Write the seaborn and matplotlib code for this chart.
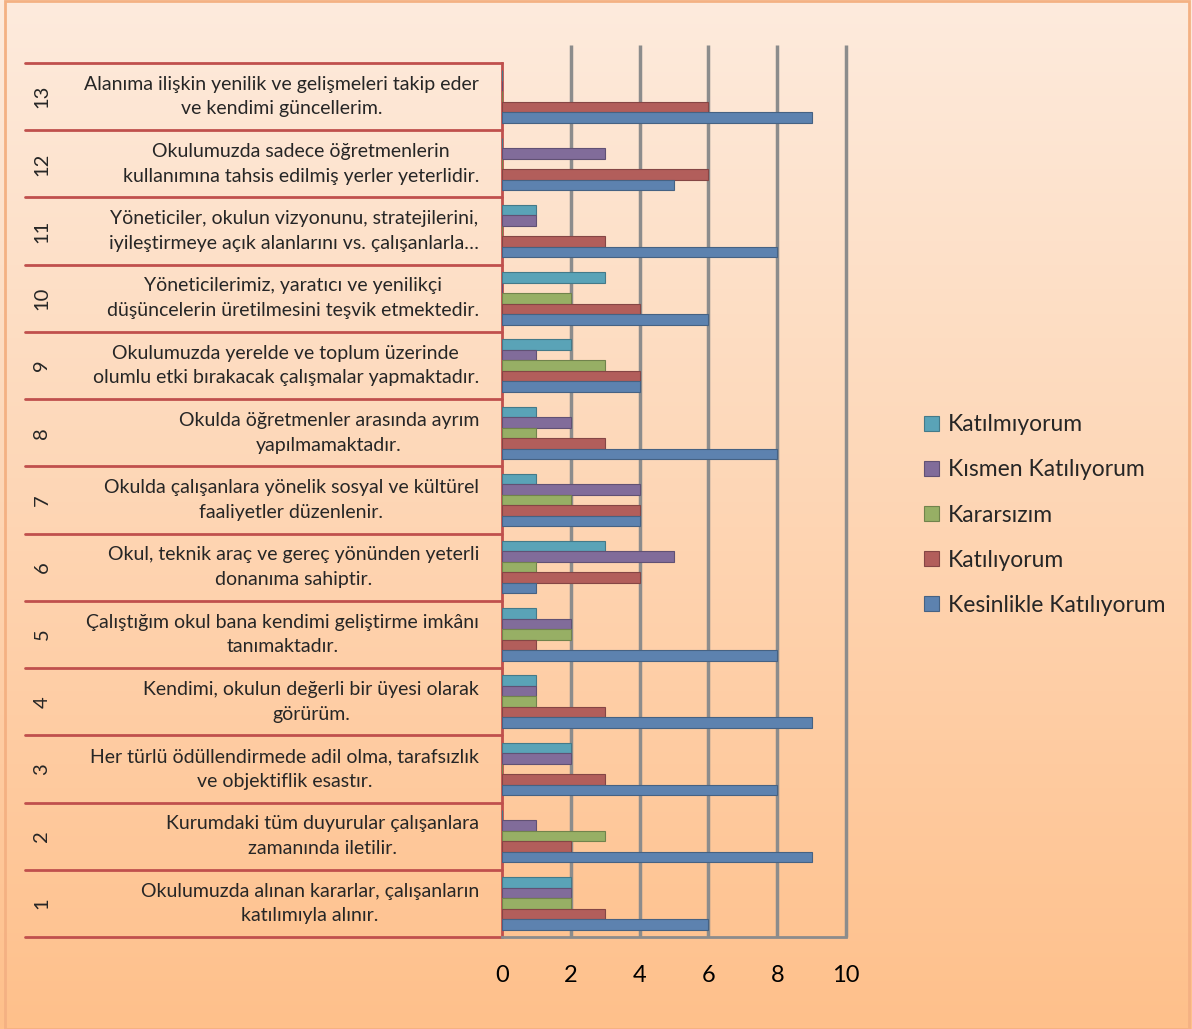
import numpy as np
import pandas as pd
import matplotlib
matplotlib.use("Agg")
import matplotlib.pyplot as plt
import matplotlib.colors as mcolors
from matplotlib.patches import Rectangle
import seaborn as sns

# question numbers and texts (1 at bottom, 13 at top)
numbers = [str(i) for i in range(1, 14)]
questions = [
    "Okulumuzda alınan kararlar, çalışanların\nkatılımıyla alınır.",
    "Kurumdaki tüm duyurular çalışanlara\nzamanında iletilir.",
    "Her türlü ödüllendirmede adil olma, tarafsızlık\nve objektiflik esastır.",
    "Kendimi, okulun değerli bir üyesi olarak\ngörürüm.",
    "Çalıştığım okul bana kendimi geliştirme imkânı\ntanımaktadır.",
    "Okul, teknik araç ve gereç yönünden yeterli\ndonanıma sahiptir.",
    "Okulda çalışanlara yönelik sosyal ve kültürel\nfaaliyetler düzenlenir.",
    "Okulda öğretmenler arasında ayrım\nyapılmamaktadır.",
    "Okulumuzda yerelde ve toplum üzerinde\nolumlu etki bırakacak çalışmalar yapmaktadır.",
    "Yöneticilerimiz, yaratıcı ve yenilikçi\ndüşüncelerin üretilmesini teşvik etmektedir.",
    "Yöneticiler, okulun vizyonunu, stratejilerini,\niyileştirmeye açık alanlarını vs. çalışanlarla…",
    "Okulumuzda sadece öğretmenlerin\nkullanımına tahsis edilmiş yerler yeterlidir.",
    "Alanıma ilişkin yenilik ve gelişmeleri takip eder\nve kendimi güncellerim.",
]

kesinlikle = [6, 9, 8, 9, 8, 1, 4, 8, 4, 6, 8, 5, 9]
katiliyorum = [3, 2, 3, 3, 1, 4, 4, 3, 4, 4, 3, 6, 6]
kararsizim = [2, 3, 0, 1, 2, 1, 2, 1, 3, 2, 0, 0, 0]
kismen = [2, 1, 2, 1, 2, 5, 4, 2, 1, 0, 1, 3, 0]
katilmiyorum = [2, 0, 2, 1, 1, 3, 1, 1, 2, 3, 1, 0, 0]

series_names = ["Katılmıyorum", "Kısmen Katılıyorum", "Kararsızım",
                "Katılıyorum", "Kesinlikle Katılıyorum"]
series_values = [katilmiyorum, kismen, kararsizim, katiliyorum, kesinlikle]
palette = ["#4BACC6", "#8064A2", "#9BBB59", "#C0504D", "#4F81BD"]

rows = []
for name, vals in zip(series_names, series_values):
    for num, v in zip(numbers, vals):
        rows.append({"soru": num, "seri": name, "deger": v})
df = pd.DataFrame(rows)

sns.set_style("white")
plt.rcParams["font.family"] = ["Lato", "DejaVu Sans"]

fig = plt.figure(figsize=(11.92, 10.29), dpi=100)

# gradient background
bg = fig.add_axes([0, 0, 1, 1], zorder=-10)
top_c = np.array(mcolors.to_rgb("#FDEBDD"))
bot_c = np.array(mcolors.to_rgb("#FFC08B"))
t = np.linspace(0, 1, 256)[:, None]
grad = top_c[None, :] * (1 - t) + bot_c[None, :] * t
bg.imshow(grad[:, None, :], aspect="auto", extent=[0, 1, 0, 1])
bg.axis("off")

W, H = 1192, 1029
x0, x1 = 502, 846
y0, y1 = 63, 937
ax = fig.add_axes([x0 / W, 1 - y1 / H, (x1 - x0) / W, (y1 - y0) / H])
ax.patch.set_alpha(0)

order = numbers[::-1]
sns.barplot(data=df, x="deger", y="soru", hue="seri", order=order,
            hue_order=series_names, palette=palette, orient="h",
            width=0.78, ax=ax, legend=True, zorder=3)

for p in ax.patches:
    fc = np.array(p.get_facecolor()[:3])
    p.set_edgecolor(fc * 0.75)
    p.set_linewidth(0.8)

ax.set_xlim(0, 10)
ax.set_ylim(len(order) - 0.5, -0.5)
ax.set_xticks(range(0, 11, 2))
# vertical grid lines, running a little above the plot top
ax.vlines(range(2, 11, 2), 0, 1 + 18 / (y1 - y0), color="#8C8C8C", lw=2.5,
          transform=ax.get_xaxis_transform(), clip_on=False, zorder=1)
ax.grid(False)
ax.set_xlabel("")
ax.set_ylabel("")
ax.set_yticks([])
for s in ["top", "right"]:
    ax.spines[s].set_visible(False)
ax.spines["left"].set_color("#C0504D")
ax.spines["left"].set_linewidth(2)
ax.spines["bottom"].set_color("#8C8C8C")
ax.spines["bottom"].set_linewidth(2)
ax.tick_params(axis="x", colors="#8C8C8C", length=6, width=2, pad=14,
               labelsize=17, labelcolor="black")

# category separators and labels
ytr = ax.get_yaxis_transform()
left_x = (25 - x0) / (x1 - x0)
for b in np.arange(-0.5, len(order), 1.0):
    ax.plot([left_x, 0], [b, b], color="#C0504D", lw=2, transform=ytr,
            clip_on=False)
num_x = (42 - x0) / (x1 - x0)
txt_x = (479 - x0) / (x1 - x0)
for i, num in enumerate(order):
    q = questions[int(num) - 1]
    ax.text(num_x, i, num, rotation=90, ha="center", va="center",
            fontsize=14.5, transform=ytr)
    ax.text(txt_x, i, q, ha="right", va="center", multialignment="center",
            fontsize=14, linespacing=1.55, transform=ytr)

# legend
handles, labels = ax.get_legend_handles_labels()
ax.legend_.remove()
fig.legend(handles, labels, loc="center left",
           bbox_to_anchor=(903 / W, 1 - 515 / H), frameon=False,
           fontsize=16.5, labelspacing=1.05, handlelength=0.65,
           handleheight=0.65, handletextpad=0.4)

# figure border
fig.patches.append(Rectangle((5 / W, 0), (W - 8) / W, 0.999,
                             transform=fig.transFigure, fill=False,
                             edgecolor="#F4B183", lw=2))

fig.savefig("out.png", dpi=100)
